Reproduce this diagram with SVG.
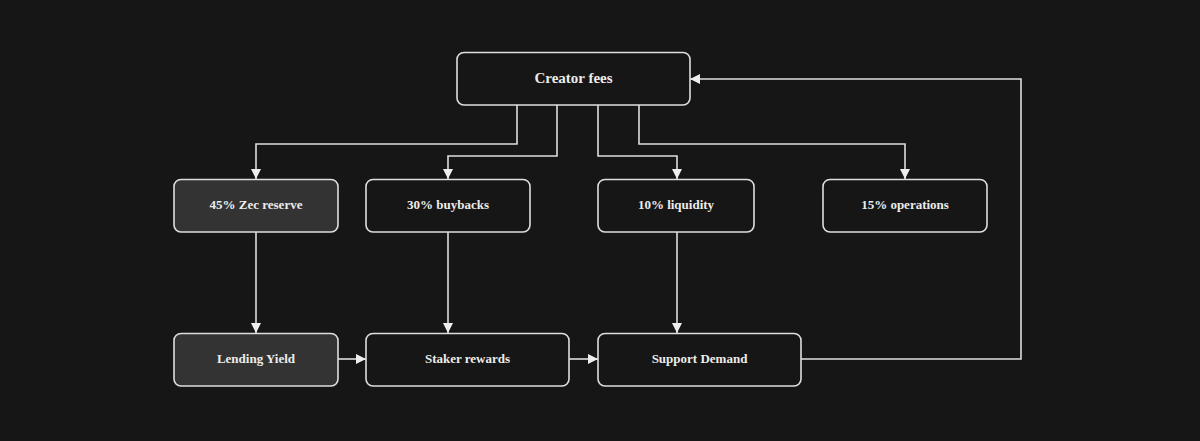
<svg xmlns="http://www.w3.org/2000/svg" width="1200" height="441" viewBox="0 0 1200 441">
<style>
.bg{fill:#161616}
.n rect{fill:#161616;stroke:#dedede;stroke-width:1.6}
.n.h rect{fill:#333333}
.n text{fill:#ececec;font-family:"Liberation Serif",serif;font-weight:bold;font-size:13px;text-anchor:middle;dominant-baseline:central}
#creator text{font-size:15px}
.e path{fill:none;stroke:#dedede;stroke-width:1.6}
</style>
<defs>
<marker id="a" viewBox="0 0 10 10" refX="10" refY="5" markerWidth="10" markerHeight="10" markerUnits="userSpaceOnUse" orient="auto">
<path d="M0,0 L10,5 L0,10 z" fill="#eeeeee"/>
</marker>
</defs>
<rect class="bg" width="1200" height="441"/>
<g class="e" id="connectors">
<path d="M517,105 V144 H256 V179" marker-end="url(#a)"/>
<path d="M557,105 V156 H448 V179" marker-end="url(#a)"/>
<path d="M598,105 V156 H677 V179" marker-end="url(#a)"/>
<path d="M639,105 V144 H905 V179" marker-end="url(#a)"/>
<path d="M256,232 V333" marker-end="url(#a)"/>
<path d="M448,232 V333" marker-end="url(#a)"/>
<path d="M677,232 V333" marker-end="url(#a)"/>
<path d="M338,359 H366" marker-end="url(#a)"/>
<path d="M569,359 H598" marker-end="url(#a)"/>
<path d="M801,359 H1021 V79 H690" marker-end="url(#a)"/>
</g>
<g class="n" id="creator"><rect x="457" y="52.5" width="233" height="52.5" rx="7"/><text x="573.5" y="78">Creator fees</text></g>
<g class="n h" id="zec"><rect x="174" y="179.5" width="164" height="52.5" rx="7"/><text x="256" y="204.5">45% Zec reserve</text></g>
<g class="n" id="buybacks"><rect x="366" y="179.5" width="164" height="52.5" rx="7"/><text x="448" y="204.5">30% buybacks</text></g>
<g class="n" id="liquidity"><rect x="598" y="179.5" width="156" height="52.5" rx="7"/><text x="676" y="204.5">10% liquidity</text></g>
<g class="n" id="operations"><rect x="823" y="179.5" width="164" height="52.5" rx="7"/><text x="905" y="204.5">15% operations</text></g>
<g class="n h" id="lending"><rect x="174" y="333.5" width="164" height="52.5" rx="7"/><text x="256" y="358">Lending Yield</text></g>
<g class="n" id="staker"><rect x="366" y="333.5" width="203" height="52.5" rx="7"/><text x="467.5" y="358">Staker rewards</text></g>
<g class="n" id="support"><rect x="598" y="333.5" width="203" height="52.5" rx="7"/><text x="699.5" y="358">Support Demand</text></g>
</svg>
